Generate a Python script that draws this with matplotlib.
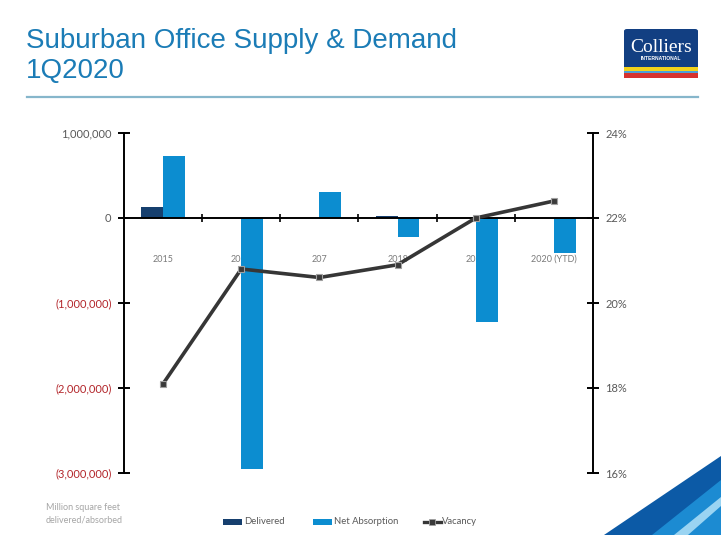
import matplotlib
matplotlib.use("Agg")
import matplotlib.pyplot as plt
from matplotlib.patches import Rectangle, FancyBboxPatch, Polygon
from matplotlib.lines import Line2D
from matplotlib import transforms
import numpy as np

# ---------------- data ----------------
categories = ["2015", "2016", "207", "2018", "2019", "2020 (YTD)"]
delivered = [130000, 0, 0, 25000, 0, 0]
net_absorption = [730000, -2950000, 310000, -220000, -1220000, -410000]
vacancy = [18.1, 20.8, 20.6, 20.9, 22.0, 22.4]
left_ticks = [1000000, 0, -1000000, -2000000, -3000000]
right_ticks = [24, 22, 20, 18, 16]

# ---------------- style ----------------
W, H = 721, 535
fig = plt.figure(figsize=(W / 100, H / 100), dpi=100)
fig.patch.set_facecolor("white")

def fx(px):
    return px / W

def fy(py):
    return 1 - py / H

CHART_FONT = ["Lato", "DejaVu Sans"]
TITLE_FONT = ["Liberation Sans", "DejaVu Sans"]
C_DELIV = "#163f6e"
C_NET = "#0c8dd0"
C_VAC = "#363636"
C_NEG = "#b3262b"
C_GRAY = "#595959"

# axes
ax = fig.add_axes([fx(124), fy(473), fx(593) - fx(124), fy(133) - fy(473)])
ax.set_facecolor("none")
x = np.arange(len(categories))
bw = 0.28
ax.bar(x - bw / 2, delivered, width=bw, color=C_DELIV, zorder=1)
ax.bar(x + bw / 2, net_absorption, width=bw, color=C_NET, zorder=1)
ax.set_xlim(-0.5, len(categories) - 0.5)
ax.set_ylim(-3000000, 1000000)

for s in ["top", "right"]:
    ax.spines[s].set_visible(False)
ax.spines["bottom"].set_position(("data", 0))
ax.spines["left"].set_linewidth(1.4)
ax.spines["bottom"].set_linewidth(1.4)
ax.spines["left"].set_color("black")
ax.spines["bottom"].set_color("black")

ax.set_yticks(left_ticks)
def fmt(v):
    if v < 0:
        return "({:,.0f})".format(-v)
    return "{:,.0f}".format(v)
ax.set_yticklabels([fmt(v) for v in left_ticks])
ax.tick_params(axis="y", direction="inout", length=8, width=1.4, pad=5,
               labelsize=8, colors="black")
for lab, v in zip(ax.get_yticklabels(), left_ticks):
    lab.set_color(C_NEG if v < 0 else C_GRAY)
    lab.set_fontfamily(CHART_FONT)

# category boundary ticks on the zero line
ax.set_xticks(np.arange(0.5, len(categories) - 0.5, 1.0))
ax.set_xticklabels([])
ax.tick_params(axis="x", direction="inout", length=6, width=1.2, colors="black")

# category labels (behind bars)
off = transforms.offset_copy(ax.transData, fig=fig, y=-41, units="dots")
for i, c in enumerate(categories):
    ax.text(i, 0, c, transform=off, ha="center", va="center", fontsize=6.5,
            color="#7a7a7a", family=CHART_FONT, zorder=0.5)

# secondary axis
ax2 = ax.twinx()
ax2.set_ylim(16, 24)
ax2.plot(x, vacancy, color=C_VAC, lw=2.6, marker="s", ms=5,
         mfc="#3a3a3a", mec="#a0a0a0", mew=0.8, zorder=3)
for s in ["top", "left", "bottom"]:
    ax2.spines[s].set_visible(False)
ax2.spines["right"].set_linewidth(1.4)
ax2.spines["right"].set_color("black")
ax2.set_yticks(right_ticks)
ax2.set_yticklabels(["{}%".format(v) for v in right_ticks])
ax2.tick_params(axis="y", direction="inout", length=8, width=1.4, pad=5,
                labelsize=8, labelcolor=C_GRAY)
for lab in ax2.get_yticklabels():
    lab.set_fontfamily(CHART_FONT)

# ---------------- title / header ----------------
fig.text(fx(26), fy(48), "Suburban Office Supply & Demand", fontsize=20,
         color="#1b7cb6", family=TITLE_FONT, va="baseline", ha="left")
fig.text(fx(26), fy(78), "1Q2020", fontsize=20,
         color="#1b7cb6", family=TITLE_FONT, va="baseline", ha="left")
fig.add_artist(Line2D([fx(27), fx(698)], [fy(97), fy(97)], color="#86b6cb", lw=1.6))

# logo
logo = FancyBboxPatch((fx(624), fy(78)), fx(698) - fx(624), fy(29) - fy(78),
                      boxstyle="round,pad=0,rounding_size=0.004",
                      transform=fig.transFigure, facecolor="#123f82", edgecolor="none")
fig.add_artist(logo)
fig.add_artist(Rectangle((fx(624), fy(71)), fx(698) - fx(624), fy(67) - fy(71),
                         transform=fig.transFigure, facecolor="#f2d21b", edgecolor="none"))
fig.add_artist(Rectangle((fx(624), fy(73)), fx(698) - fx(624), fy(71) - fy(73),
                         transform=fig.transFigure, facecolor="#4aa0d8", edgecolor="none"))
fig.add_artist(Rectangle((fx(624), fy(77.5)), fx(698) - fx(624), fy(73) - fy(77.5),
                         transform=fig.transFigure, facecolor="#d6322e", edgecolor="none"))
fig.text(fx(661), fy(51.5), "Colliers", fontsize=14, color="white",
         family=["Liberation Serif", "DejaVu Serif"], ha="center", va="baseline")
fig.text(fx(661), fy(60), "INTERNATIONAL", fontsize=3.6, color="white",
         family=TITLE_FONT, ha="center", va="baseline", fontweight="bold")

# bottom-right decoration
fig.add_artist(Polygon([(fx(604), fy(535)), (fx(721), fy(456)), (fx(721), fy(535))],
                       closed=True, transform=fig.transFigure, facecolor="#0c5aa6", edgecolor="none"))
fig.add_artist(Polygon([(fx(652), fy(535)), (fx(721), fy(480)), (fx(721), fy(535))],
                       closed=True, transform=fig.transFigure, facecolor="#1c8bd2", edgecolor="none"))
fig.add_artist(Polygon([(fx(674), fy(535)), (fx(721), fy(497)), (fx(721), fy(506)), (fx(688), fy(535))],
                       closed=True, transform=fig.transFigure, facecolor="#9ad4f2", edgecolor="none"))

# note
fig.text(fx(46), fy(508), "Million square feet", fontsize=6.5, color="#a6a6a6",
         family=CHART_FONT, va="center", ha="left")
fig.text(fx(46), fy(520), "delivered/absorbed", fontsize=6.5, color="#a6a6a6",
         family=CHART_FONT, va="center", ha="left")

# legend
ly = fy(522)
fig.add_artist(Rectangle((fx(223), ly - 3 / H), fx(242) - fx(223), 6 / H,
                         transform=fig.transFigure, facecolor=C_DELIV, edgecolor="none"))
fig.text(fx(244), ly, "Delivered", fontsize=6.8, color=C_GRAY, family=CHART_FONT,
         va="center", ha="left")
fig.add_artist(Rectangle((fx(313), ly - 3 / H), fx(332) - fx(313), 6 / H,
                         transform=fig.transFigure, facecolor=C_NET, edgecolor="none"))
fig.text(fx(334), ly, "Net Absorption", fontsize=6.8, color=C_GRAY, family=CHART_FONT,
         va="center", ha="left")
fig.add_artist(Line2D([fx(424), fx(441)], [ly, ly], color=C_VAC, lw=2.4))
fig.add_artist(Line2D([fx(432.5)], [ly], color=C_VAC, marker="s", ms=4.5,
                      mfc="#3a3a3a", mec="#a0a0a0", mew=0.6, lw=0))
fig.text(fx(442), ly, "Vacancy", fontsize=6.8, color=C_GRAY, family=CHART_FONT,
         va="center", ha="left")

fig.savefig("out.png", dpi=100)
